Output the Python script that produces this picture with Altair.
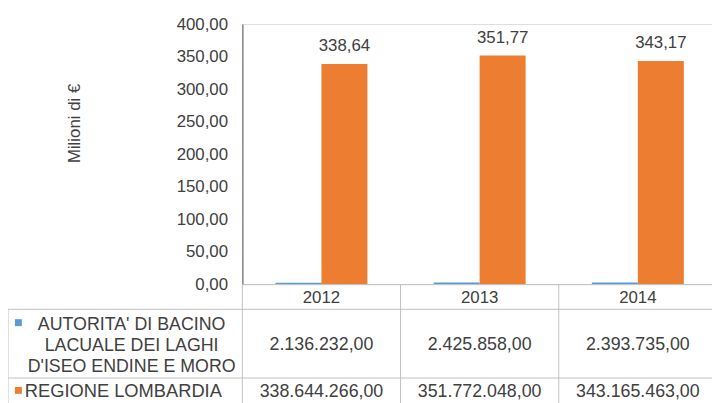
import altair as alt
import pandas as pd

# ---- data ----
years = ["2012", "2013", "2014"]
series_keys = ["AUTORITA", "REGIONE"]
label_autorita = ["AUTORITA' DI BACINO", "LACUALE DEI LAGHI", "D'ISEO ENDINE E MORO"]
label_regione = "REGIONE LOMBARDIA"
autorita_eur = [2136232.00, 2425858.00, 2393735.00]
regione_eur = [338644266.00, 351772048.00, 343165463.00]
y_ticks = [0, 50, 100, 150, 200, 250, 300, 350, 400]

BLUE = "#5B9BD5"
ORANGE = "#ED7D31"
TXT = "#404040"
GRID = "#BFBFBF"
FONT = "Liberation Sans"


def it_num(v, d=2):
    s = f"{v:,.{d}f}"
    return s.replace(",", "X").replace(".", ",").replace("X", ".")


rows = []
for i, yr in enumerate(years):
    rows.append({"year": yr, "series": "AUTORITA", "value": autorita_eur[i] / 1e6,
                 "label": it_num(autorita_eur[i] / 1e6)})
    rows.append({"year": yr, "series": "REGIONE", "value": regione_eur[i] / 1e6,
                 "label": it_num(regione_eur[i] / 1e6)})
df = pd.DataFrame(rows)

table = pd.DataFrame({
    "year": years,
    "a_txt": [it_num(v) for v in autorita_eur],
    "r_txt": [it_num(v) for v in regione_eur],
})

W, H = 475, 263
LEFT = 237
x_scale = alt.Scale(paddingInner=0, paddingOuter=0, range=[0, 480])

x_axis = alt.Axis(title=None, domainColor=GRID, domainWidth=1, ticks=False, labels=False)
x_enc = alt.X("year:N", sort=years, scale=x_scale, axis=x_axis)
y_axis = alt.Axis(values=y_ticks, grid=False, ticks=False, labelPadding=15,
                  labelOverlap=False,
                  labelExpr="replace(format(datum.value, '.2f'), '.', ',')",
                  labelFontSize=17, labelColor=TXT, labelFont=FONT,
                  domainColor="#868686", domainWidth=1.5,
                  title="Milioni di €", titleFontSize=17, titleFontWeight="normal",
                  titleColor=TXT, titleFont=FONT, titleX=-170, titleY=100,
                  titleAngle=270, titleAlign="center", titleBaseline="middle")
y_enc = alt.Y("value:Q", scale=alt.Scale(domain=[0, 400], nice=False), axis=y_axis)
xoff = alt.XOffset("series:N", sort=series_keys,
                   scale=alt.Scale(paddingInner=0, paddingOuter=0.72))

base = alt.Chart(df)

bars = base.mark_bar().encode(
    x=x_enc, xOffset=xoff, y=y_enc,
    color=alt.Color("series:N", scale=alt.Scale(domain=series_keys, range=[BLUE, ORANGE]),
                    legend=None),
)

bar_labels = base.transform_filter(alt.datum.series == "REGIONE").mark_text(
    baseline="alphabetic", dy=-13, fontSize=17, color=TXT, font=FONT
).encode(x=x_enc, xOffset=xoff, y=y_enc, text="label:N")

tbase = alt.Chart(table)

header = tbase.mark_text(baseline="alphabetic", fontSize=17, color=TXT, font=FONT).encode(
    x=x_enc, y=alt.value(282), text="year:N")
row_a = tbase.mark_text(baseline="alphabetic", fontSize=18, color=TXT, font=FONT).encode(
    x=x_enc, y=alt.value(329.5), text="a_txt:N")
row_r = tbase.mark_text(baseline="alphabetic", fontSize=18, color=TXT, font=FONT).encode(
    x=x_enc, y=alt.value(377.5), text="r_txt:N")

vlines = tbase.mark_rule(color=GRID, strokeWidth=1).encode(
    x=alt.X("year:N", sort=years, bandPosition=0, scale=x_scale, axis=x_axis),
    y=alt.value(H), y2=alt.value(410))

legend_df = pd.DataFrame({"k": [0]})
lbase = alt.Chart(legend_df)
hline1 = lbase.mark_rule(color=GRID).encode(x=alt.value(-LEFT), x2=alt.value(490), y=alt.value(288.5))
hline2 = lbase.mark_rule(color=GRID).encode(x=alt.value(-LEFT), x2=alt.value(490), y=alt.value(358))
lline = lbase.mark_rule(color=GRID).encode(x=alt.value(-LEFT), y=alt.value(288.5), y2=alt.value(410))

sq_a = lbase.mark_square(size=49, color=BLUE, opacity=1).encode(x=alt.value(-226.5), y=alt.value(302))
sq_r = lbase.mark_square(size=49, color=ORANGE, opacity=1).encode(x=alt.value(-226.5), y=alt.value(370.5))

lab_a = lbase.mark_text(align="center", baseline="alphabetic", fontSize=18, color=TXT, font=FONT,
                        lineHeight=21).encode(
    x=alt.value(-112), y=alt.value(309.5), text=alt.value(label_autorita))
lab_r = lbase.mark_text(align="left", baseline="alphabetic", fontSize=18.5, color=TXT, font=FONT).encode(
    x=alt.value(-220), y=alt.value(377.5), text=alt.value(label_regione))

chart = alt.layer(
    vlines, hline1, hline2, lline, bars, bar_labels, header, row_a, row_r,
    sq_a, sq_r, lab_a, lab_r
).properties(
    width=W, height=H,
    autosize=alt.AutoSizeParams(type="none"),
    padding={"left": LEFT, "top": 14, "right": 0, "bottom": 118},
).configure_view(stroke=None).configure(font=FONT)

chart.save("out.html", embed_options={"renderer": "svg", "actions": False})
